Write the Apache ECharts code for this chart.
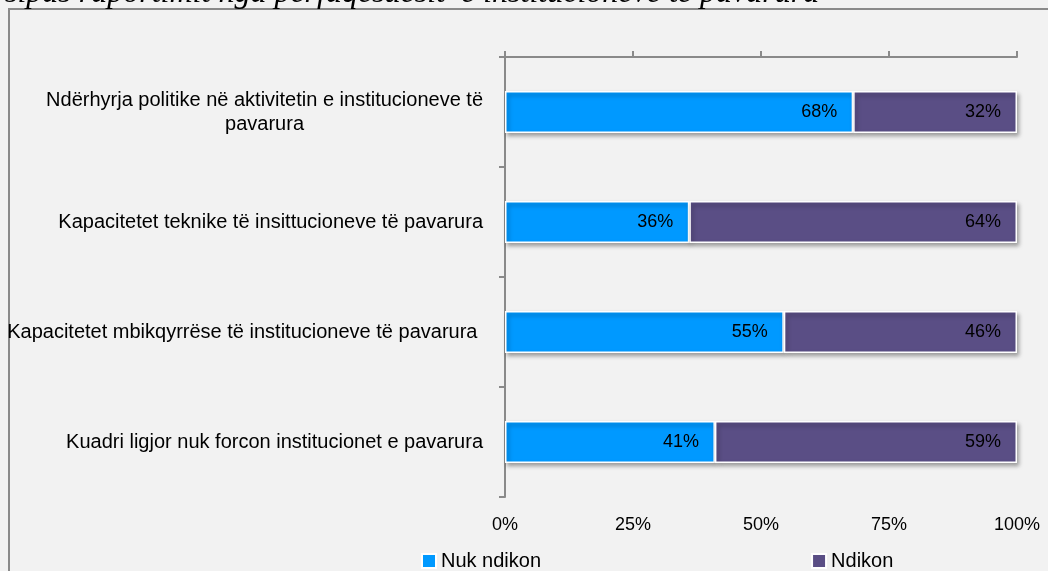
<!DOCTYPE html>
<html>
<head>
<meta charset="utf-8">
<script src="https://cdn.jsdelivr.net/npm/echarts@6/dist/echarts.min.js"></script>
<style>
html,body{margin:0;padding:0;background:#f2f2f2;}
#chart{width:1048px;height:571px;}
</style>
</head>
<body>
<div id="chart"></div>
<script>
const titleText = "sipas raportimit nga përfaqësuesit  e institucioneve të pavarura";
const categories = [
  "Ndërhyrja politike në aktivitetin e institucioneve të\npavarura",
  "Kapacitetet teknike të insittucioneve të pavarura",
  "Kapacitetet mbikqyrrëse të institucioneve të pavarura ",
  "Kuadri ligjor nuk forcon institucionet e pavarura"
];
const seriesNames = ["Nuk ndikon", "Ndikon"];
const nukNdikon = [68, 36, 55, 41];
const ndikon = [32, 64, 46, 59];
const xTickValues = [0, 25, 50, 75, 100];

const totals = nukNdikon.map((v, i) => v + ndikon[i]);
const share = arr => arr.map((v, i) => v / totals[i] * 100);
const raw = [nukNdikon, ndikon];

const GRAY = '#8a8a8a';
const SANS = 'Liberation Sans';

const chart = echarts.init(document.getElementById('chart'), null, {renderer: 'canvas'});

function barSeries(idx, color) {
  return {
    name: seriesNames[idx],
    type: 'bar',
    stack: 'total',
    xAxisIndex: 0,
    barWidth: 42,
    data: share(raw[idx]),
    itemStyle: {
      color: color,
      borderColor: '#ffffff',
      borderWidth: 1.5,
      shadowBlur: 4,
      shadowColor: 'rgba(0,0,0,0.35)',
      shadowOffsetX: 2,
      shadowOffsetY: 3
    },
    label: {
      show: true,
      position: 'insideRight',
      distance: 16,
      fontFamily: SANS,
      fontSize: 18,
      color: '#000',
      formatter: p => raw[idx][p.dataIndex] + '%'
    },
    emphasis: {disabled: true}
  };
}

chart.setOption({
  backgroundColor: '#f2f2f2',
  animation: false,
  graphic: [
    {
      type: 'rect',
      shape: {x: 9, y: 9, width: 1200, height: 1000},
      style: {fill: 'none', stroke: GRAY, lineWidth: 2},
      z: -1, silent: true
    },
    {
      type: 'text',
      left: 5,
      top: -22,
      style: {
        text: titleText,
        font: 'italic 32px "Liberation Serif"',
        fill: '#000'
      },
      silent: true
    }
  ],
  legend: {
    data: seriesNames,
    left: 421,
    top: 551,
    padding: 0,
    itemWidth: 14,
    itemHeight: 14,
    itemGap: 270,
    icon: 'rect',
    textStyle: {fontFamily: SANS, fontSize: 20, color: '#000'},
    selectedMode: false
  },
  grid: {left: 505, right: 31, top: 57, bottom: 74, containLabel: false},
  xAxis: [
    {
      type: 'value', position: 'top', min: 0, max: 100, interval: 25,
      axisLine: {show: true, lineStyle: {color: GRAY, width: 2}},
      axisTick: {show: true, inside: false, length: 6, lineStyle: {color: GRAY, width: 2}},
      axisLabel: {show: false},
      splitLine: {show: false}
    },
    {
      type: 'value', position: 'bottom', min: 0, max: 100, interval: 25,
      axisLine: {show: false},
      axisTick: {show: false},
      splitLine: {show: false},
      axisLabel: {
        show: true, margin: 19, fontFamily: SANS, fontSize: 18, color: '#000',
        formatter: v => xTickValues.indexOf(v) >= 0 ? v + '%' : ''
      }
    }
  ],
  yAxis: {
    type: 'category',
    inverse: true,
    data: categories,
    axisLine: {show: true, lineStyle: {color: GRAY, width: 2}},
    axisTick: {show: true, length: 6, lineStyle: {color: GRAY, width: 2}},
    axisLabel: {
      margin: 22,
      align: 'right',
      fontFamily: SANS,
      fontSize: 20,
      lineHeight: 24,
      color: '#000',
      formatter: v => v.split('\n').map(l => '{c|' + l + '}').join('\n'),
      rich: {c: {align: 'center', fontFamily: SANS, fontSize: 20, lineHeight: 24, color: '#000'}}
    },
    splitLine: {show: false}
  },
  series: [barSeries(0, '#0099ff'), barSeries(1, '#5a4e85')]
});
</script>
</body>
</html>
